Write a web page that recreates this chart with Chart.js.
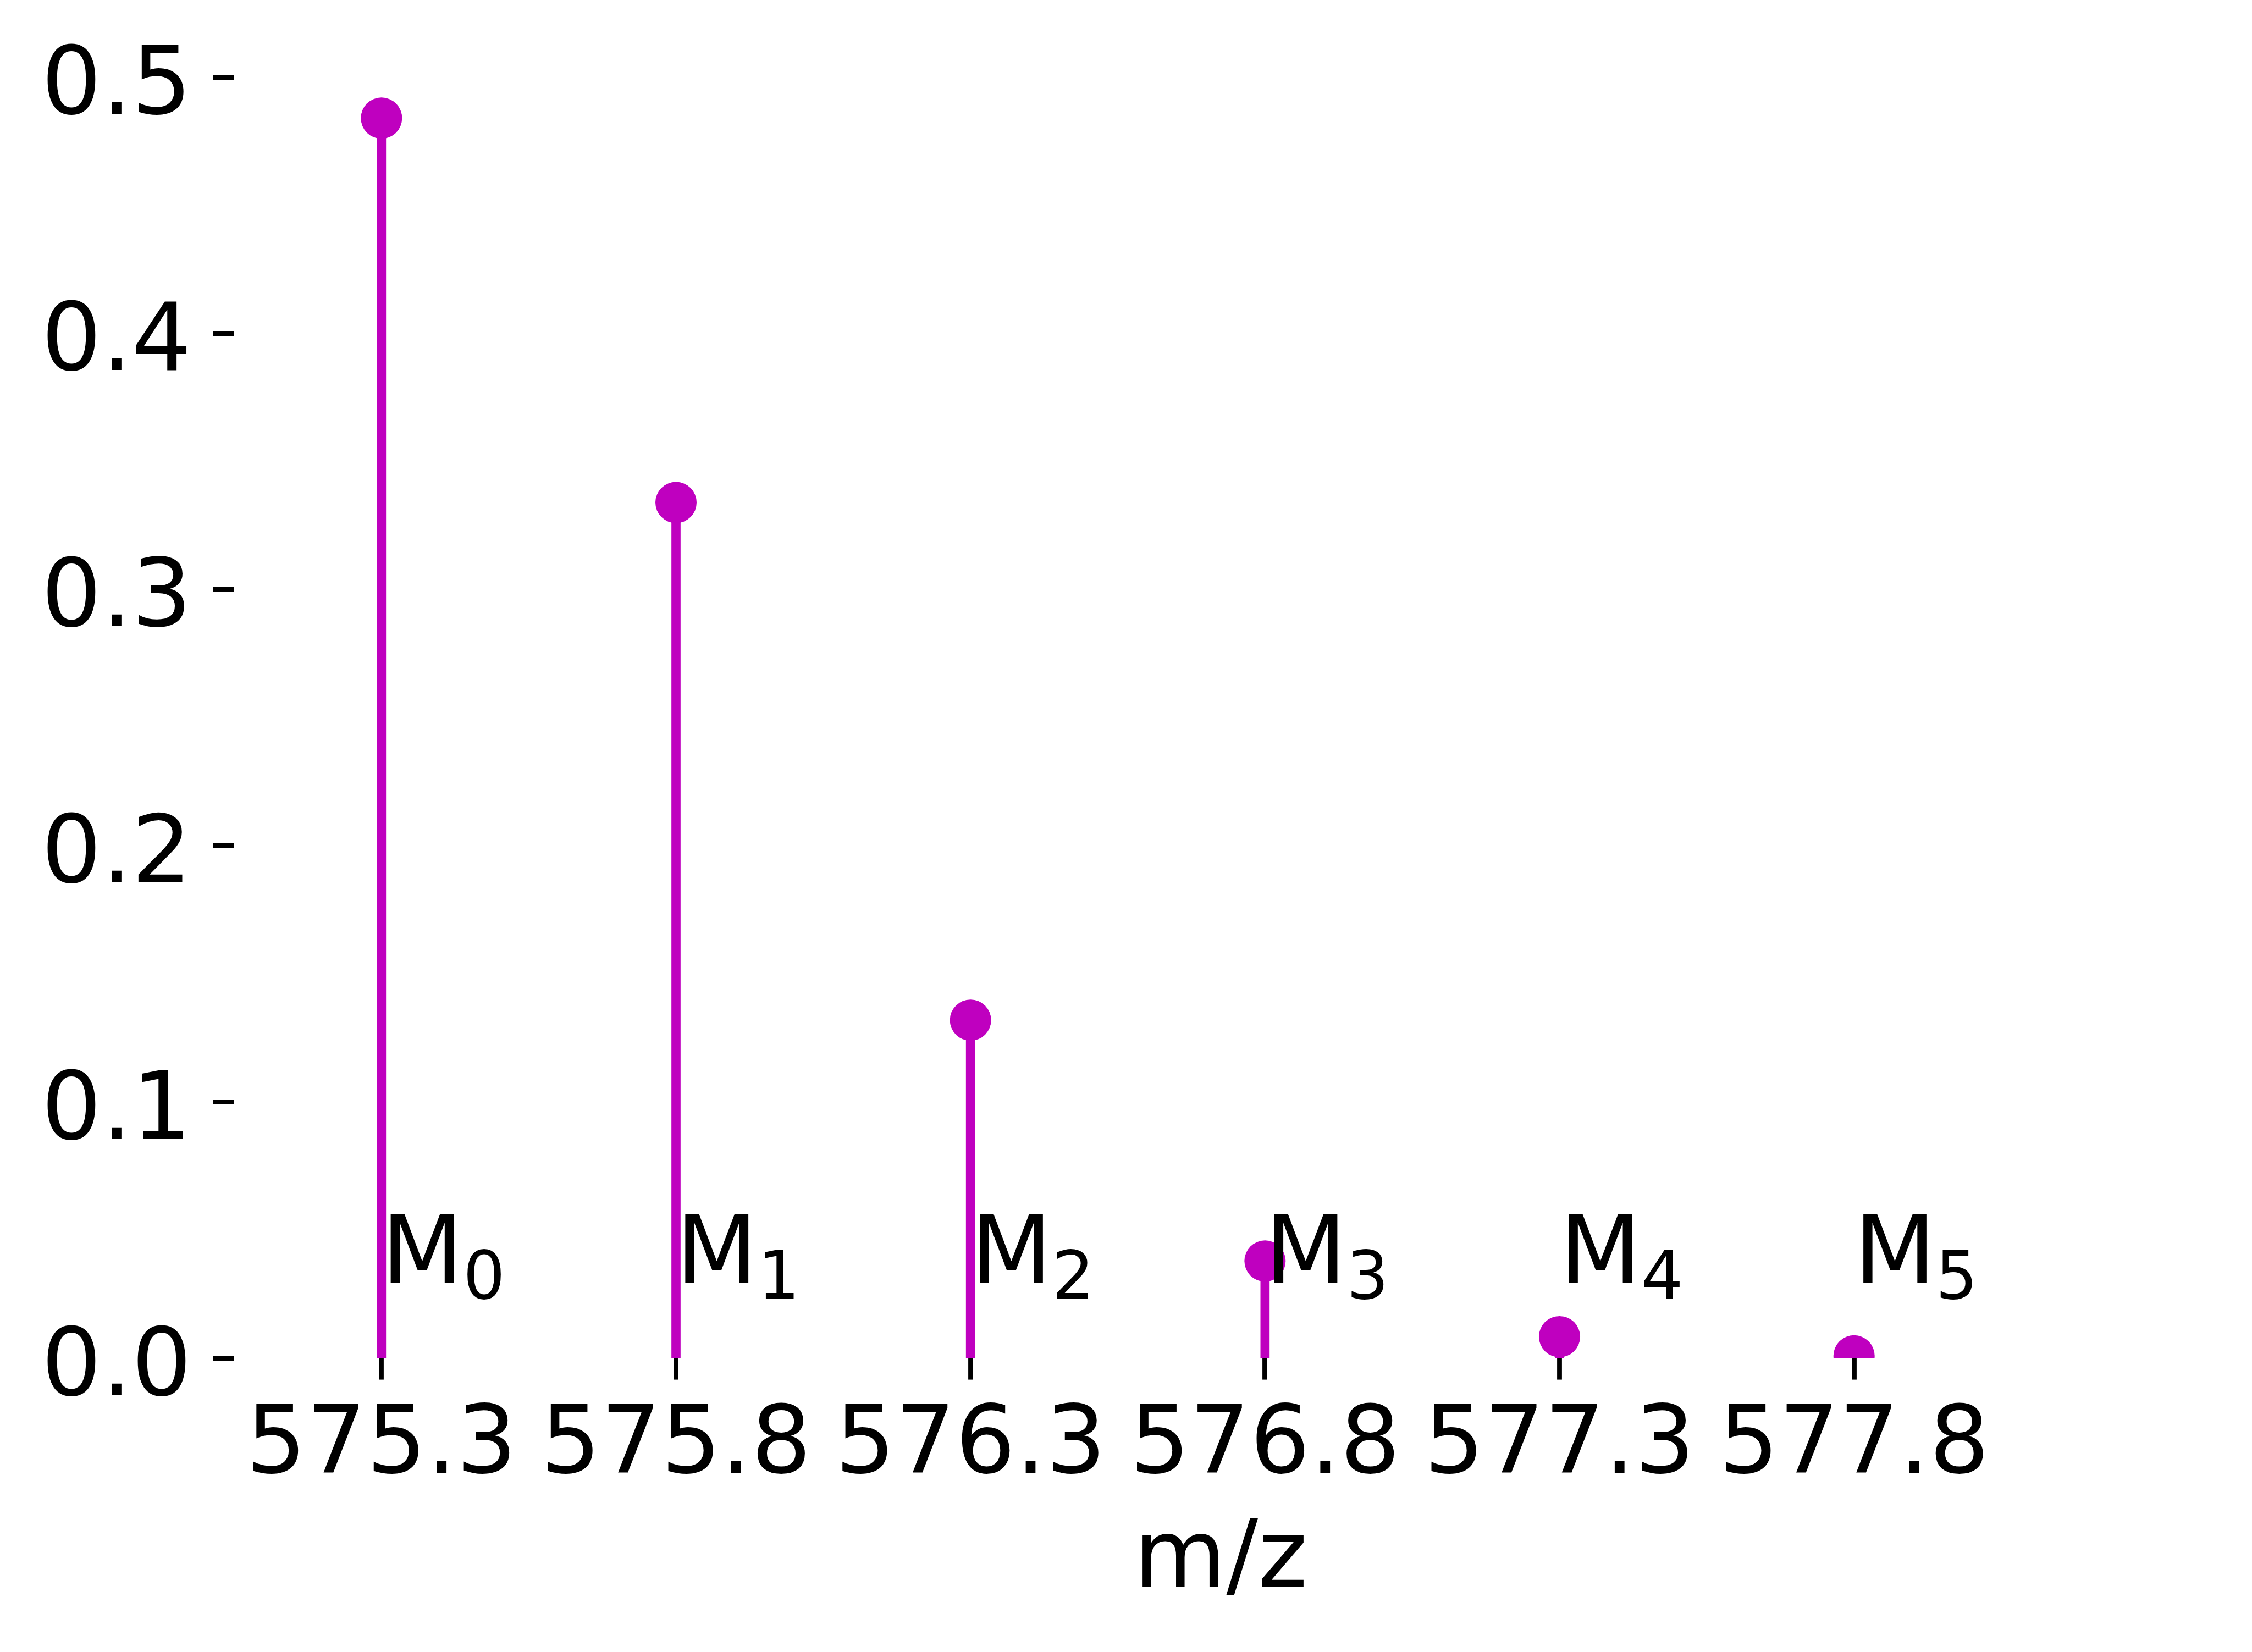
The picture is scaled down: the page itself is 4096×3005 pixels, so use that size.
<!DOCTYPE html>
<html lang="en">
<head>
    <meta charset="UTF-8">
    <title>Isotope distribution</title>
    <script src="https://cdn.jsdelivr.net/npm/chart.js"></script>
    <style>
        body { margin: 0; background: #fff; }
        canvas { display: block; }
    </style>
</head>
<body>
    <canvas id="chartCanvas" width="4096" height="3005"></canvas>

    <script>
        // peak data
        const mzValues = [575.3, 575.8, 576.3, 576.8, 577.3, 577.8];
        const intensities = [0.484, 0.334, 0.132, 0.038, 0.0085, 0.001];
        const peakNames = ['M', 'M', 'M', 'M', 'M', 'M'];
        const peakSubs = ['0', '1', '2', '3', '4', '5'];
        const labelY = 0.03;

        // axis ticks
        const xTicks = [575.3, 575.8, 576.3, 576.8, 577.3, 577.8];
        const xTickLabels = ['575.3', '575.8', '576.3', '576.8', '577.3', '577.8'];
        const yTicks = [0, 0.1, 0.2, 0.3, 0.4, 0.5];
        const yTickLabels = ['0.0', '0.1', '0.2', '0.3', '0.4', '0.5'];

        const magenta = '#bf00bf';
        const fontFamily = '"DejaVu Sans"';
        const fontSize = 172;

        // M_n labels next to each stem
        const peakLabels = {
            id: 'peakLabels',
            afterDatasetsDraw(chart) {
                const { ctx, scales } = chart;
                ctx.save();
                ctx.fillStyle = '#000';
                ctx.textAlign = 'left';
                ctx.textBaseline = 'alphabetic';
                mzValues.forEach((mz, i) => {
                    const px = scales.x.getPixelForValue(mz);
                    const py = scales.y.getPixelForValue(labelY) + 3;
                    ctx.font = `${fontSize}px ${fontFamily}`;
                    ctx.fillText(peakNames[i], px, py);
                    const w = ctx.measureText(peakNames[i]).width;
                    ctx.font = `${fontSize * 0.7}px ${fontFamily}`;
                    ctx.fillText(peakSubs[i], px + w, py + 28);
                });
                ctx.restore();
            }
        };

        const ctx = document.getElementById('chartCanvas').getContext('2d');

        new Chart(ctx, {
            type: 'bar',
            data: {
                datasets: [
                    {
                        type: 'bar',
                        data: mzValues.map((mz, i) => ({ x: mz, y: intensities[i] })),
                        backgroundColor: magenta,
                        borderWidth: 0,
                        barThickness: 16,
                        order: 2,
                    },
                    {
                        type: 'scatter',
                        data: mzValues.map((mz, i) => ({ x: mz, y: intensities[i] })),
                        backgroundColor: magenta,
                        pointBackgroundColor: magenta,
                        pointBorderWidth: 0,
                        pointRadius: 37.5,
                        pointHoverRadius: 37.5,
                        clip: { left: false, top: false, right: false, bottom: 0 },
                        order: 1,
                    },
                ],
            },
            options: {
                responsive: false,
                devicePixelRatio: 1,
                animation: false,
                events: [],
                layout: { padding: { top: 103, right: 81, bottom: 0, left: 0 } },
                plugins: {
                    legend: { display: false },
                    tooltip: { enabled: false },
                },
                scales: {
                    x: {
                        type: 'linear',
                        min: 575.05,
                        max: 578.4,
                        offset: false,
                        border: { display: false },
                        grid: {
                            offset: false,
                            drawOnChartArea: false,
                            drawTicks: true,
                            tickLength: 38.6,
                            tickWidth: 8.8,
                            tickColor: '#000',
                        },
                        ticks: {
                            autoSkip: false,
                            maxRotation: 0,
                            minRotation: 0,
                            padding: 22,
                            color: '#000',
                            font: { family: 'DejaVu Sans', size: fontSize },
                            callback: (value) => xTickLabels[xTicks.indexOf(value)],
                        },
                        afterBuildTicks: (scale) => {
                            scale.ticks = xTicks.map(v => ({ value: v }));
                        },
                        afterFit: (scale) => {
                            scale.height = 534;
                            scale.paddingLeft = 0;
                            scale.paddingRight = 0;
                        },
                        title: {
                            display: true,
                            text: 'm/z',
                            color: '#000',
                            font: { family: 'DejaVu Sans', size: fontSize, lineHeight: 1.2 },
                            padding: { top: 0, bottom: 60 },
                        },
                    },
                    y: {
                        type: 'linear',
                        min: 0,
                        max: 0.508,
                        border: { display: false },
                        grid: {
                            drawOnChartArea: false,
                            drawTicks: true,
                            tickLength: 38.6,
                            tickWidth: 8.8,
                            tickColor: '#000',
                        },
                        ticks: {
                            padding: 38.6,
                            labelOffset: 22,
                            color: '#000',
                            font: { family: 'DejaVu Sans', size: fontSize },
                            callback: (value) => yTickLabels[yTicks.findIndex(t => Math.abs(t - value) < 1e-9)],
                        },
                        afterBuildTicks: (scale) => {
                            scale.ticks = yTicks.map(v => ({ value: v }));
                        },
                        afterFit: (scale) => {
                            scale.width = 426;
                            scale.paddingTop = 0;
                            scale.paddingBottom = 0;
                        },
                    },
                },
            },
            plugins: [peakLabels],
        });
    </script>
</body>
</html>
